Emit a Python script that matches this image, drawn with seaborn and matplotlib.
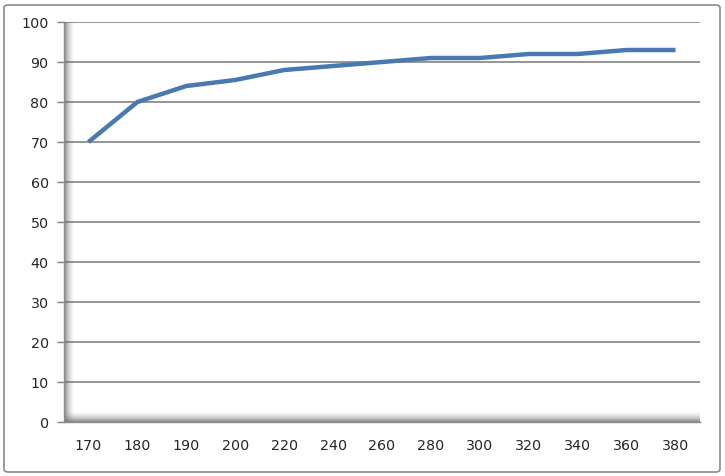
import matplotlib
matplotlib.use("Agg")
import matplotlib.pyplot as plt
import seaborn as sns
import numpy as np
import pandas as pd
from matplotlib.patches import FancyBboxPatch

categories = ["170", "180", "190", "200", "220", "240", "260", "280", "300", "320", "340", "360", "380"]
values = [70, 80, 84, 85.5, 88, 89, 90, 91, 91, 92, 92, 93, 93]
y_ticks = [0, 10, 20, 30, 40, 50, 60, 70, 80, 90, 100]

sns.set_theme(style="white")
plt.rcParams['font.family'] = ['DejaVu Sans']

fig = plt.figure(figsize=(7.25, 4.76), dpi=100)
ax = fig.add_axes([64/725, 54/476, 636/725, 400/476])

df = pd.DataFrame({"x": categories, "y": values})
sns.lineplot(data=df, x="x", y="y", ax=ax, color="#4a78b0", linewidth=3.2, zorder=5,
             solid_capstyle="butt")

ax.set_xlim(-0.5, len(categories) - 0.5)
ax.set_ylim(0, 100)
ax.set_yticks(y_ticks)
ax.set_yticklabels([str(t) for t in y_ticks])
ax.set_xticks(range(len(categories)))
ax.set_xticklabels(categories)
ax.set_xticks(np.arange(-0.5, len(categories), 1.0), minor=True)
ax.tick_params(axis="x", which="major", length=0, pad=12, labelsize=10.3, colors="#262626")
ax.tick_params(axis="x", which="minor", length=5, width=1, color="#7f7f7f")
ax.tick_params(axis="y", which="major", length=5, width=1, color="#7f7f7f", pad=6,
               labelsize=10.3, labelcolor="#262626", left=True)
ax.set_xlabel("")
ax.set_ylabel("")

for t in y_ticks[1:]:
    ax.axhline(t, color="#8c8c8c", linewidth=1.3, zorder=1)

for s in ["top", "right"]:
    ax.spines[s].set_visible(False)
ax.spines["left"].set_color("#8a8a8a")
ax.spines["bottom"].set_color("#8a8a8a")
ax.spines["left"].set_linewidth(1)
ax.spines["bottom"].set_linewidth(1)

# 3D-like wall/floor shading (smooth gradients)
x0, x1 = -0.5, len(categories) - 0.5
px_x = (x1 - x0) / 636.0
px_y = 100 / 400.0
g = np.linspace(1, 0, 64) ** 1.6
rgba_w = np.zeros((1, 64, 4))
rgba_w[..., :3] = 0.42
rgba_w[..., 3] = 0.8 * g
ax.imshow(rgba_w, extent=(x0, x0 + 11 * px_x, 0, 100), aspect="auto", zorder=2,
          interpolation="bilinear")
rgba_f = np.zeros((64, 1, 4))
rgba_f[..., :3] = 0.42
rgba_f[..., 3] = (0.8 * g)[::-1].reshape(64, 1)
ax.imshow(rgba_f, extent=(x0, x1, 0, 11 * px_y), aspect="auto", zorder=2,
          interpolation="bilinear", origin="upper")
ax.set_xlim(x0, x1)
ax.set_ylim(0, 100)

# outer chart border
border = FancyBboxPatch((4/725, 4/476), 716/725, 467/476, boxstyle="round,pad=0,rounding_size=0.006",
                        transform=fig.transFigure, facecolor="none", edgecolor="#8a8a8a",
                        linewidth=1.2)
fig.patches.append(border)

fig.savefig("out.png", dpi=100)
